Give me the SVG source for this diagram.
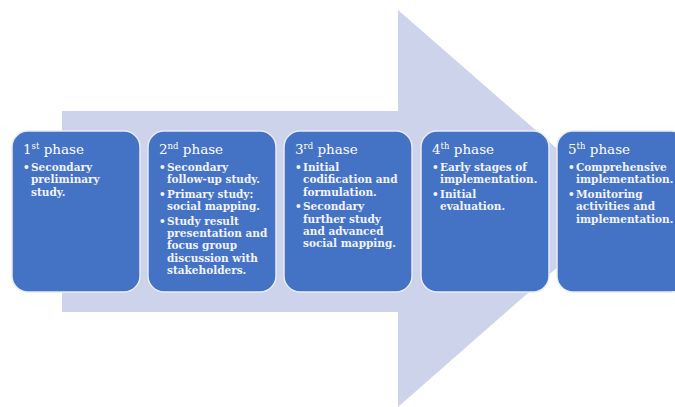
<svg xmlns="http://www.w3.org/2000/svg" width="675" height="407" viewBox="0 0 675 407">
<style>
.box{fill:#4472C4;stroke:#E8ECF6;stroke-width:1.5}
.t{font-family:"DejaVu Serif","Liberation Serif",serif;fill:#FFFFFF;font-size:13.5px}
.sup{font-size:8.5px}
.b{font-family:"DejaVu Serif","Liberation Serif",serif;fill:#F2F4FA;font-size:10.5px;font-weight:bold}
</style>
<rect width="675" height="407" fill="#FFFFFF"/>
<g id="arrow">
<polygon points="62,111 398,111 398,10 625,208 398,407 398,312 62,312" fill="#CDD3EA"/>
</g>
<g id="connectors"></g>
<g id="phase1">
<rect class="box" x="12" y="131" width="128" height="161" rx="16"/>
<text class="t" x="23" y="154">1<tspan class="sup" dy="-5">st</tspan><tspan dy="5"> phase</tspan></text>
<text class="b"><tspan x="23" y="171">•</tspan><tspan x="31" y="171">Secondary</tspan><tspan x="31" y="183.4">preliminary</tspan><tspan x="31" y="195.8">study.</tspan></text>
</g>
<g id="phase2">
<rect class="box" x="148" y="131" width="128" height="161" rx="16"/>
<text class="t" x="159" y="154">2<tspan class="sup" dy="-5">nd</tspan><tspan dy="5"> phase</tspan></text>
<text class="b"><tspan x="159" y="171">•</tspan><tspan x="167" y="171">Secondary</tspan><tspan x="167" y="183.4">follow-up study.</tspan><tspan x="159" y="197.8">•</tspan><tspan x="167" y="197.8">Primary study:</tspan><tspan x="167" y="210.2">social mapping.</tspan><tspan x="159" y="224.6">•</tspan><tspan x="167" y="224.6">Study result</tspan><tspan x="167" y="237">presentation and</tspan><tspan x="167" y="249.4">focus group</tspan><tspan x="167" y="261.8">discussion with</tspan><tspan x="167" y="274.2">stakeholders.</tspan></text>
</g>
<g id="phase3">
<rect class="box" x="284" y="131" width="128" height="161" rx="16"/>
<text class="t" x="295" y="154">3<tspan class="sup" dy="-5">rd</tspan><tspan dy="5"> phase</tspan></text>
<text class="b"><tspan x="295" y="171">•</tspan><tspan x="303" y="171">Initial</tspan><tspan x="303" y="183.4">codification and</tspan><tspan x="303" y="195.8">formulation.</tspan><tspan x="295" y="210.2">•</tspan><tspan x="303" y="210.2">Secondary</tspan><tspan x="303" y="222.6">further study</tspan><tspan x="303" y="235">and advanced</tspan><tspan x="303" y="247.4">social mapping.</tspan></text>
</g>
<g id="phase4">
<rect class="box" x="421" y="131" width="128" height="161" rx="16"/>
<text class="t" x="432" y="154">4<tspan class="sup" dy="-5">th</tspan><tspan dy="5"> phase</tspan></text>
<text class="b"><tspan x="432" y="171">•</tspan><tspan x="440" y="171">Early stages of</tspan><tspan x="440" y="183.4">implementation.</tspan><tspan x="432" y="197.8">•</tspan><tspan x="440" y="197.8">Initial</tspan><tspan x="440" y="210.2">evaluation.</tspan></text>
</g>
<g id="phase5">
<rect class="box" x="557" y="131" width="130" height="161" rx="16"/>
<text class="t" x="568" y="154">5<tspan class="sup" dy="-5">th</tspan><tspan dy="5"> phase</tspan></text>
<text class="b"><tspan x="568" y="171">•</tspan><tspan x="576" y="171">Comprehensive</tspan><tspan x="576" y="183.4">implementation.</tspan><tspan x="568" y="197.8">•</tspan><tspan x="576" y="197.8">Monitoring</tspan><tspan x="576" y="210.2">activities and</tspan><tspan x="576" y="222.6">implementation.</tspan></text>
</g>
</svg>
